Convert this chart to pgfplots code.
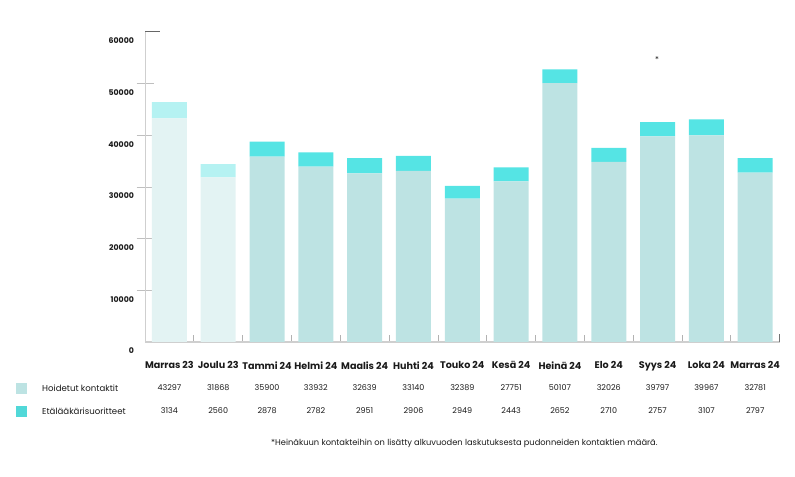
\documentclass[border=0pt]{standalone}
\usepackage{fontspec}
\setmainfont{Poppins}
\usepackage{pgfplots}
\pgfplotsset{compat=1.18}

\definecolor{hoid}{HTML}{BDE3E3}
\definecolor{eta}{HTML}{55E4E4}
\definecolor{hoidL}{HTML}{E3F3F3}
\definecolor{etaL}{HTML}{B5F2F2}
\definecolor{txt}{HTML}{1A1A1A}
\definecolor{axgray}{HTML}{CFCFCF}

\newcommand{\numfont}{\fontsize{8bp}{9bp}\selectfont}
\newcommand{\col}[3]{%
  \node[txt, font=\numfont] at (axis cs:#1,0) [yshift=-46bp] {#2};
  \node[txt, font=\numfont] at (axis cs:#1,0) [yshift=-69bp] {#3};}

\begin{document}
\begin{tikzpicture}[x=1bp, y=1bp]
\useasboundingbox (0,0) rectangle (795,477);
\begin{axis}[
    at={(145bp,135bp)}, anchor=south west,
    scale only axis, width=634.6bp, height=310bp,
    ybar stacked, bar width=35bp,
    xmin=-0.5, xmax=12.5, ymin=0, ymax=60000,
    enlargelimits=false, clip=false,
    axis x line*=bottom, axis y line*=left,
    axis line style={-},
    x axis line style={draw=axgray, line width=1.4bp},
    y axis line style={draw=axgray, line width=1bp},
    xtick={0,...,12},
    xticklabels={Marras 23, Joulu 23, Tammi 24, Helmi 24, Maalis 24, Huhti 24, Touko 24, Kesä 24, Heinä 24, Elo 24, Syys 24, Loka 24, Marras 24},
    every major x tick/.append style={draw=none},
    minor xtick={0.5,1.5,...,11.5},
    every minor x tick/.append style={draw=black!30, line width=0.8bp},
    minor tick length=7bp,
    xtick align=inside,
    xticklabel style={font=\fontsize{9.6bp}{11bp}\selectfont\bfseries, text=txt, yshift=-16bp},
    ytick={10000,20000,30000,40000,50000},
    extra y ticks={0,60000},
    extra y tick style={every major y tick/.append style={draw=none}},
    ytick align=center, major tick length=17bp,
    every major y tick/.append style={draw=black!25, line width=0.8bp},
    scaled y ticks=false,
    /pgf/number format/1000 sep={},
    /pgf/number format/assume math mode=true,
    yticklabel style={font=\fontsize{7.8bp}{9bp}\selectfont\bfseries, text=txt, anchor=east, yshift=-9bp, xshift=1bp},
]
\addplot[fill=hoidL, draw=none] coordinates {(0,43297) (1,31868) (2,0) (3,0) (4,0) (5,0) (6,0) (7,0) (8,0) (9,0) (10,0) (11,0) (12,0)};
\addplot[fill=etaL, draw=none] coordinates {(0,3134) (1,2560) (2,0) (3,0) (4,0) (5,0) (6,0) (7,0) (8,0) (9,0) (10,0) (11,0) (12,0)};
\addplot[fill=hoid, draw=none] coordinates {(0,0) (1,0) (2,35900) (3,33932) (4,32639) (5,33140) (6,27751) (7,31100) (8,50107) (9,34850) (10,39797) (11,39967) (12,32781)};
\addplot[fill=eta, draw=none] coordinates {(0,0) (1,0) (2,2878) (3,2782) (4,2951) (5,2906) (6,2443) (7,2710) (8,2652) (9,2710) (10,2757) (11,3107) (12,2797)};

\col{0}{43297}{3134}
\col{1}{31868}{2560}
\col{2}{35900}{2878}
\col{3}{33932}{2782}
\col{4}{32639}{2951}
\col{5}{33140}{2906}
\col{6}{32389}{2949}
\col{7}{27751}{2443}
\col{8}{50107}{2652}
\col{9}{32026}{2710}
\col{10}{39797}{2757}
\col{11}{39967}{3107}
\col{12}{32781}{2797}
\end{axis}

\draw[black!60, line width=1bp] (145,445) -- (160,445);
\draw[black!55, line width=1.2bp] (779.6,135) -- (779.6,143);

\fill[hoid] (16,83) rectangle (27,94);
\fill[eta!95!black] (16,60) rectangle (27,71);
\node[anchor=west, txt, font=\fontsize{8.6bp}{9bp}\selectfont, inner sep=0] at (42,88.5) {Hoidetut kontaktit};
\node[anchor=west, txt, font=\fontsize{8.6bp}{9bp}\selectfont, inner sep=0] at (42,66) {Etälääkärisuoritteet};
\node[anchor=west, txt, font=\fontsize{8.3bp}{9bp}\selectfont, inner sep=0] at (271,34) {*Heinäkuun kontakteihin on lisätty alkuvuoden laskutuksesta pudonneiden kontaktien määrä.};
\node[txt, font=\fontsize{8bp}{9bp}\selectfont, inner sep=0] at (657,417) {*};
\end{tikzpicture}
\end{document}
